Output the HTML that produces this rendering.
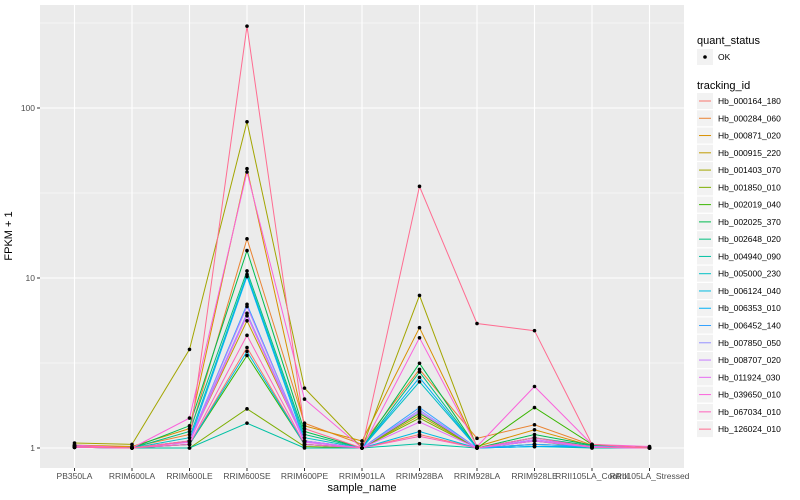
<!DOCTYPE html>
<html><head><meta charset="utf-8"><style>
body{margin:0;background:#fff;}
svg{display:block;font-family:"Liberation Sans",sans-serif;}
</style></head><body>
<svg id="chart" width="800" height="500" viewBox="0 0 800 500">
<rect x="40" y="5" width="644" height="463" fill="#EBEBEB"/>
<g id="grid"></g><g id="lines"></g><g id="points"></g><g id="axes"></g><g id="legend"></g>
<text x="12" y="236" font-size="11" fill="#000" text-anchor="middle" transform="rotate(-90 12 236)">FPKM + 1</text>
<text x="362" y="491" font-size="11" fill="#000" text-anchor="middle">sample_name</text>
</svg>
<script>
const categories=["PB350LA","RRIM600LA","RRIM600LE","RRIM600SE","RRIM600PE","RRIM901LA","RRIM928BA","RRIM928LA","RRIM928LE","RRII105LA_Control","RRII105LA_Stressed"];
const seriesNames=["Hb_000164_180","Hb_000284_060","Hb_000871_020","Hb_000915_220","Hb_001403_070","Hb_001850_010","Hb_002019_040","Hb_002025_370","Hb_002648_020","Hb_004940_090","Hb_005000_230","Hb_006124_040","Hb_006353_010","Hb_006452_140","Hb_007850_050","Hb_008707_020","Hb_011924_030","Hb_039650_010","Hb_067034_010","Hb_126024_010"];
const colors=["#F8766D","#EA8331","#D89000","#C09B00","#A3A500","#7CAE00","#39B600","#00BB4E","#00BF7D","#00C1A3","#00BFC4","#00BAE0","#00B0F6","#35A2FF","#9590FF","#C77CFF","#E76BF3","#FA62DB","#FF62BC","#FF6C91"];
const s0=[1.02,1,1.05,3.9,1.05,1,1.2,1,1.1,1.02,1];
const s1=[1.03,1.01,1.2,17,1.4,1.05,2.9,1.14,1.37,1.04,1];
const s2=[1.04,1.02,1.3,44,1.35,1.1,5.1,1.02,1.28,1.03,1.01];
const s3=[1.01,1,1.1,5.6,1.1,1,1.55,1,1.15,1.01,1];
const s4=[1.07,1.05,3.8,83,2.25,1,7.9,1,1.05,1.02,1];
const s5=[1.01,1,1,1.7,1.02,1,1.5,1,1.1,1,1];
const s6=[1.02,1,1.05,3.5,1.05,1,1.6,1,1.73,1.05,1];
const s7=[1.03,1,1.35,14.5,1.25,1,3.15,1,1.2,1.04,1];
const s8=[1.02,1,1.25,11,1.2,1,2.8,1,1.15,1.03,1];
const s9=[1.01,1,1,1.4,1,1,1.06,1,1.02,1,1];
const s10=[1.02,1,1.15,10.5,1.15,1,2.45,1,1.05,1.02,1];
const s11=[1.01,1,1.05,3.7,1.05,1,1.25,1,1.02,1.01,1];
const s12=[1.02,1,1.1,10.2,1.1,1,2.6,1,1.02,1.02,1];
const s13=[1.02,1,1.1,7,1.1,1,1.73,1,1.05,1.02,1];
const s14=[1.01,1,1.1,6.2,1.1,1,1.67,1,1.1,1.01,1];
const s15=[1.02,1,1.1,6.8,1.1,1,1.63,1,1.12,1.02,1];
const s16=[1.01,1,1.08,6,1.08,1,1.42,1,1.1,1.01,1];
const s17=[1.04,1,1.5,42,1.94,1,4.45,1.02,2.3,1.05,1.02];
const s18=[1.01,1,1.05,4.6,1.05,1,1.17,1,1.15,1.01,1];
const s19=[1.02,1,1.1,303,1.3,1,34.6,5.4,4.9,1.05,1];
const seriesValues=[s0,s1,s2,s3,s4,s5,s6,s7,s8,s9,s10,s11,s12,s13,s14,s15,s16,s17,s18,s19];
const yMajorTicks=[1,10,100];
const yTickLabels=["1","10","100"];
const yMinorTicks=[3.1623,31.623,316.23];

const NS="http://www.w3.org/2000/svg";
const px0=40,px1=684,step=(px1-px0)/(categories.length-1+1.2);
function xs(i){return px0+(i+0.6)*step;}
function ys(v){return 448-170*Math.log10(v);}
function mk(tag,attrs,parent){const e=document.createElementNS(NS,tag);for(const k in attrs)e.setAttribute(k,attrs[k]);parent.appendChild(e);return e;}
const grid=document.getElementById('grid'),lines=document.getElementById('lines'),pts=document.getElementById('points'),axes=document.getElementById('axes'),leg=document.getElementById('legend');
yMinorTicks.forEach(v=>{const y=ys(v);if(y<5)return;const l=mk('line',{x1:px0,x2:px1,y1:y,y2:y,stroke:'#fff','stroke-width':0.5},grid);

});
yMajorTicks.forEach((v,i)=>{const y=ys(v);const l=mk('line',{x1:px0,x2:px1,y1:y,y2:y,stroke:'#fff','stroke-width':1.1},grid);


const t=mk('line',{x1:px0-3,x2:px0,y1:y,y2:y,stroke:'#333','stroke-width':1},axes);


const tx=mk('text',{x:px0-5,y:y+3,'font-size':8.5,fill:'#4D4D4D','text-anchor':'end'},axes);tx.textContent=yTickLabels[i];

});
categories.forEach((c,i)=>{const x=xs(i);const l=mk('line',{x1:x,x2:x,y1:5,y2:468,stroke:'#fff','stroke-width':1.1},grid);


const t=mk('line',{x1:x,x2:x,y1:468,y2:471,stroke:'#333','stroke-width':1},axes);


const tx=mk('text',{x:x,y:479,'font-size':8.5,fill:'#4D4D4D','text-anchor':'middle'},axes);tx.textContent=c;

});
seriesValues.forEach((s,k)=>{const d=s.map((v,i)=>(i?'L':'M')+xs(i).toFixed(1)+' '+ys(v).toFixed(1)).join(' ');
const p=mk('path',{d:d,fill:'none',stroke:colors[k],'stroke-width':1},lines);


s.forEach((v,i)=>{const c=mk('circle',{cx:xs(i),cy:ys(v),r:1.8,fill:'#000'},pts);

});});
// legend
let t=mk('text',{x:697,y:44,'font-size':11,fill:'#000'},leg);t.textContent='quant_status';


let r=mk('rect',{x:697,y:49,width:16,height:16,fill:'#F2F2F2'},leg);


let c=mk('circle',{cx:705,cy:57,r:1.8,fill:'#000'},leg);


t=mk('text',{x:718,y:60,'font-size':8.5,fill:'#000'},leg);t.textContent='OK';


t=mk('text',{x:697,y:89,'font-size':11,fill:'#000'},leg);t.textContent='tracking_id';


seriesNames.forEach((n,k)=>{const y=101+k*17.27;
const b=mk('rect',{x:697,y:y-8,width:16,height:16,fill:'#F2F2F2'},leg);


const l=mk('line',{x1:699,x2:711,y1:y,y2:y,stroke:colors[k],'stroke-width':1},leg);


const tx=mk('text',{x:718,y:y+3,'font-size':8.5,fill:'#000'},leg);tx.textContent=n;

});
</script>
</body></html>
